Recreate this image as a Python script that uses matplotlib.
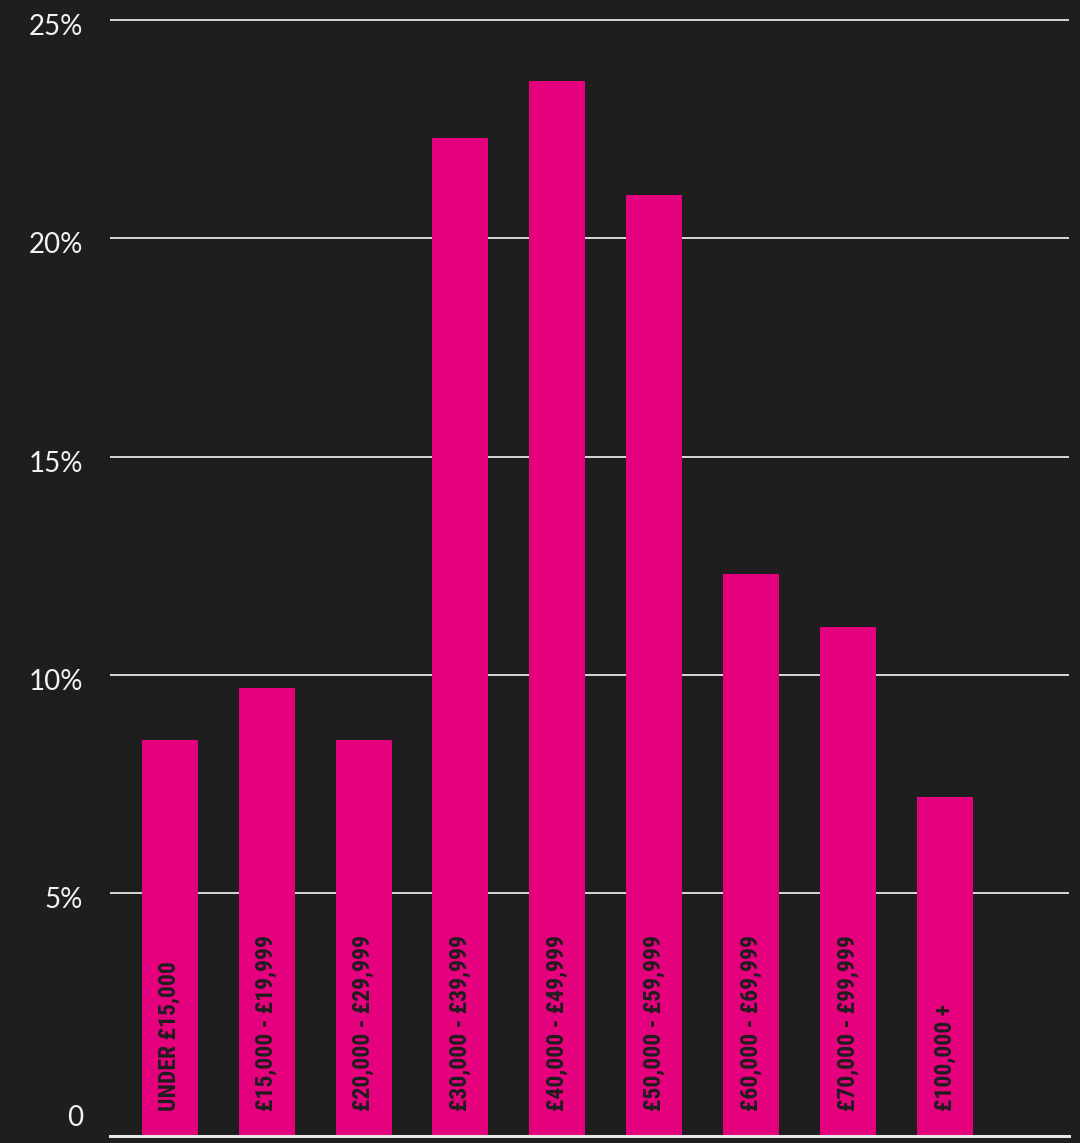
import matplotlib
matplotlib.use("Agg")
import matplotlib.pyplot as plt
import matplotlib.transforms as mtransforms
import numpy as np

# Salary bands and share of respondents (%)
categories = [
    "UNDER £15,000",
    "£15,000 - £19,999",
    "£20,000 - £29,999",
    "£30,000 - £39,999",
    "£40,000 - £49,999",
    "£50,000 - £59,999",
    "£60,000 - £69,999",
    "£70,000 - £99,999",
    "£100,000 +",
]
shares = [8.5, 9.7, 8.5, 22.3, 23.6, 21.0, 12.3, 11.1, 7.2]
tick_values = [0, 5, 10, 15, 20, 25]
tick_labels = ["0", "5%", "10%", "15%", "20%", "25%"]

BG = "#1e1e1e"
BAR = "#e5007e"
GRID = "#e6e6e6"

fig = plt.figure(figsize=(10.8, 11.43), dpi=100, facecolor=BG)
ax = fig.add_axes([110 / 1080, 6 / 1143, 959 / 1080, 1122 / 1143])
ax.set_facecolor(BG)

y_floor = -0.59
ax.set_ylim(y_floor, 25.12)
ax.set_xlim(-0.616, 9.28)

x = np.arange(len(categories))
vals = np.array(shares)
ax.bar(x, vals - y_floor, bottom=y_floor, width=0.578, color=BAR, zorder=2)

# horizontal gridlines
for v in tick_values[1:]:
    ax.axhline(v, color=GRID, lw=1.3, zorder=1)
ax.axhline(y_floor + 0.03, color=GRID, lw=2.2, zorder=3, clip_on=False)

for s in ax.spines.values():
    s.set_visible(False)
ax.set_xticks([])
ax.set_yticks([])

# y tick labels, right-aligned left of the plot
offset = mtransforms.ScaledTranslation(-27 / 100, -7 / 100, fig.dpi_scale_trans)
trans = mtransforms.blended_transform_factory(ax.transAxes, ax.transData) + offset
for v, lab in zip(tick_values, tick_labels):
    ax.text(0, v, lab, transform=trans, ha="right", va="center",
            color="#f2f2f2", fontsize=20, family=["Lato", "DejaVu Sans"],
            fontweight="normal")

# category labels inside bars
for xi, lab in zip(x, categories):
    ax.text(xi, 0.0, lab, rotation=90, ha="center", va="bottom",
            color="#1e1e1e", fontsize=17,
            family=["Roboto Condensed", "DejaVu Sans"],
            fontstretch="condensed", fontweight="bold", zorder=4)

fig.savefig("out.png", dpi=100, facecolor=BG)
